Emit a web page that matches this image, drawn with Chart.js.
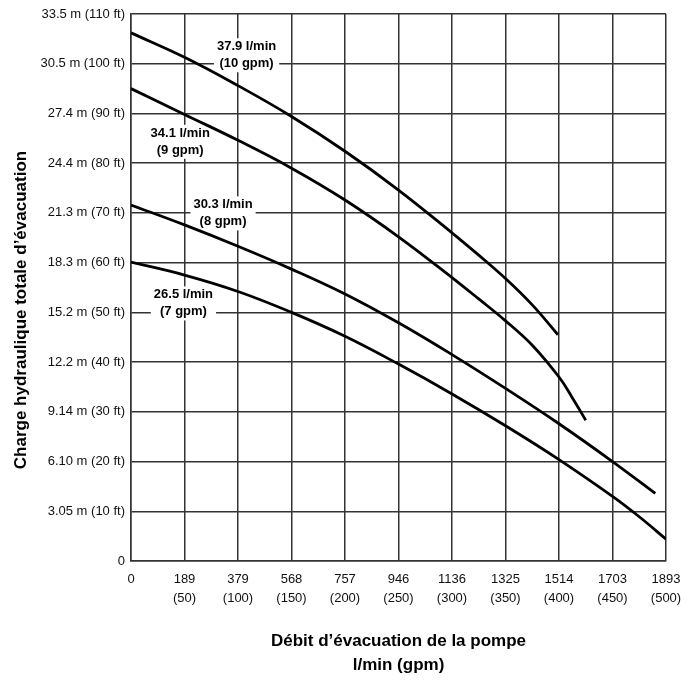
<!DOCTYPE html>
<html>
<head>
<meta charset="utf-8">
<script src="https://cdn.jsdelivr.net/npm/chart.js@4.4.1/dist/chart.umd.min.js"></script>
<style>
    html, body { margin: 0; padding: 0; background: #fff; }
    #wrap { width: 697px; height: 681px; }
</style>
</head>
<body>
<div id="wrap"><canvas id="pump-chart"></canvas></div>
<script>
const FONT = '"Liberation Sans Narrow", "Arial Narrow", "Liberation Sans", sans-serif';

// x axis: gpm, labelled in l/min with gpm underneath
const lpmLabels = ['0', '189', '379', '568', '757', '946', '1136', '1325', '1514', '1703', '1893'];
const gpmLabels = ['', '(50)', '(100)', '(150)', '(200)', '(250)', '(300)', '(350)', '(400)', '(450)', '(500)'];
// y axis: feet, labelled in metres with feet
const headLabels = ['0', '3.05 m (10 ft)', '6.10 m (20 ft)', '9.14 m (30 ft)', '12.2 m (40 ft)', '15.2 m (50 ft)',
    '18.3 m (60 ft)', '21.3 m (70 ft)', '24.4 m (80 ft)', '27.4 m (90 ft)', '30.5 m (100 ft)', '33.5 m (110 ft)'];

// pump curves (flow in gpm, head in ft)
const flow10 = [0, 50, 100, 150, 200, 250, 300, 325, 350, 375, 399];
const head10 = [106.2, 101.3, 95.6, 89.4, 82.4, 74.6, 66.0, 61.5, 56.8, 51.5, 45.5];
const flow9 = [0, 50, 100, 150, 200, 250, 300, 325, 350, 375, 400, 412, 425];
const head9 = [95.0, 89.8, 84.6, 79.0, 72.6, 65.2, 57.0, 52.7, 48.3, 43.4, 37.0, 33.0, 28.3];
const flow8 = [0, 50, 100, 150, 200, 250, 300, 350, 400, 450, 490];
const head8 = [71.6, 67.6, 63.3, 58.7, 53.7, 47.9, 41.5, 34.7, 27.6, 20.0, 13.6];
const flow7 = [0, 50, 100, 150, 200, 250, 300, 350, 400, 450, 475, 500];
const head7 = [60.1, 57.5, 54.2, 50.0, 45.2, 39.6, 33.6, 27.2, 20.4, 13.0, 8.9, 4.4];

// curve captions and where they sit (gpm, ft)
const captionText = [['37.9 l/min', '(10 gpm)'], ['34.1 l/min', '(9 gpm)'], ['30.3 l/min', '(8 gpm)'], ['26.5 l/min', '(7 gpm)']];
const captionGpm = [108, 46, 86, 49];
const captionFt = [101.7, 84.3, 69.9, 51.8];

function toPoints(xs, ys) {
    return xs.map((v, i) => ({x: v, y: ys[i]}));
}

function curve(xs, ys) {
    return {
        data: toPoints(xs, ys),
        borderColor: '#000',
        borderWidth: 2.8,
        pointRadius: 0,
        fill: false,
        tension: 0.4
    };
}

const captionPlugin = {
    id: 'captions',
    beforeDatasetsDraw(chart) {
        const {ctx, scales: {x, y}} = chart;
        ctx.save();
        ctx.font = 'bold 13px ' + FONT;
        ctx.textAlign = 'center';
        ctx.textBaseline = 'middle';
        captionText.forEach((lines, i) => {
            const cx = x.getPixelForValue(captionGpm[i]);
            const cy = y.getPixelForValue(captionFt[i]);
            const w = Math.max(...lines.map(t => ctx.measureText(t).width)) + 6;
            const h = 34;
            ctx.fillStyle = '#fff';
            ctx.fillRect(cx - w / 2, cy - h / 2, w, h);
            ctx.fillStyle = '#000';
            ctx.fillText(lines[0], cx, cy - 8.5);
            ctx.fillText(lines[1], cx, cy + 8.5);
        });
        ctx.restore();
    },
    afterDraw(chart) {
        // y axis title, sits a bit below the middle of the plot
        const {ctx} = chart;
        ctx.save();
        ctx.font = 'bold 17px ' + FONT;
        ctx.fillStyle = '#000';
        ctx.textAlign = 'center';
        ctx.textBaseline = 'middle';
        ctx.translate(21, 310);
        ctx.rotate(-Math.PI / 2);
        ctx.fillText('Charge hydraulique totale d\u2019\u00e9vacuation', 0, 0);
        ctx.restore();
    }
};

const pumpChart = new Chart(document.getElementById('pump-chart'), {
    type: 'line',
    data: {
        datasets: [
            curve(flow10, head10),
            curve(flow9, head9),
            curve(flow8, head8),
            curve(flow7, head7)
        ]
    },
    options: {
        responsive: true,
        maintainAspectRatio: false,
        animation: false,
        layout: {padding: {left: 0, right: 31, top: 14, bottom: 0}},
        plugins: {
            legend: {display: false},
            tooltip: {enabled: false}
        },
        scales: {
            x: {
                type: 'linear',
                min: 0,
                max: 500,
                afterFit: scale => { scale.height = 120; },
                grid: {color: '#333', lineWidth: 1.5, drawTicks: false},
                border: {color: '#333', width: 1.5},
                ticks: {
                    stepSize: 50,
                    autoSkip: false,
                    maxRotation: 0,
                    padding: 9,
                    color: '#111',
                    font: {family: FONT, size: 13, lineHeight: 1.45},
                    callback: (v, i) => gpmLabels[i] ? [lpmLabels[i], gpmLabels[i]] : lpmLabels[i]
                },
                title: {
                    display: true,
                    text: ['D\u00e9bit d\u2019\u00e9vacuation de la pompe', 'l/min (gpm)'],
                    color: '#000',
                    font: {family: FONT, size: 17, weight: 'bold', lineHeight: '24px'},
                    padding: {top: 0, bottom: 4}
                }
            },
            y: {
                type: 'linear',
                min: 0,
                max: 110,
                afterFit: scale => { scale.width = 131; },
                grid: {color: '#333', lineWidth: 1.5, drawTicks: false},
                border: {color: '#333', width: 1.5},
                ticks: {
                    stepSize: 10,
                    autoSkip: false,
                    padding: 6,
                    color: '#111',
                    font: {family: FONT, size: 13},
                    callback: (v, i) => headLabels[i]
                }
            }
        }
    },
    plugins: [captionPlugin]
});
</script>
</body>
</html>
